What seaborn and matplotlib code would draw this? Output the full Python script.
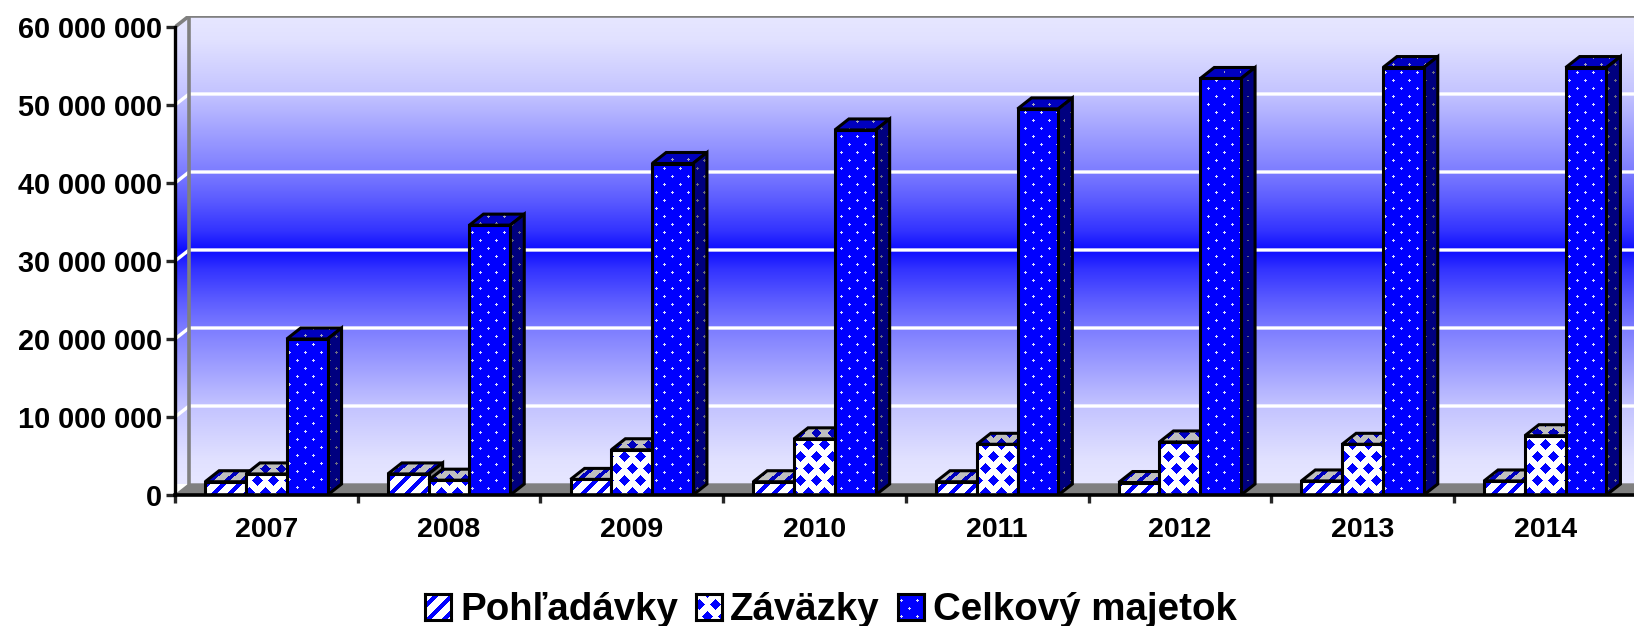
import numpy as np
import pandas as pd
import matplotlib
matplotlib.use("Agg")
import matplotlib.pyplot as plt
from matplotlib.patches import Polygon
import seaborn as sns

# Data
years = ["2007", "2008", "2009", "2010", "2011", "2012", "2013", "2014"]
pohladavky = [1.7e6, 2.7e6, 2.0e6, 1.7e6, 1.7e6, 1.6e6, 1.8e6, 1.8e6]
zavazky = [2.7e6, 1.9e6, 5.8e6, 7.2e6, 6.5e6, 6.8e6, 6.5e6, 7.6e6]
majetok = [20.0e6, 34.6e6, 42.5e6, 46.8e6, 49.5e6, 53.4e6, 54.8e6, 54.8e6]
series = ["Pohľadávky", "Záväzky", "Celkový majetok"]
y_ticks = [0, 10e6, 20e6, 30e6, 40e6, 50e6, 60e6]
y_labels = ["0", "10 000 000", "20 000 000", "30 000 000", "40 000 000", "50 000 000", "60 000 000"]

W, H = 1634, 626
LEFT, BOTTOM, TOP = 175, 495, 16
CAT_W = 182.7
PX_PER_UNIT = 78 / 10e6
DEPTH_X, DEPTH_Y = 14, 11

sns.set_theme(style="white")
plt.rcParams["font.family"] = ["Liberation Sans", "DejaVu Sans"]
plt.rcParams["font.weight"] = "bold"

df = pd.DataFrame({
    "rok": years * 3,
    "hodnota": pohladavky + zavazky + majetok,
    "seria": np.repeat(series, len(years)),
})

fig = plt.figure(figsize=(W / 100, H / 100), dpi=100, facecolor="white")
ax = fig.add_axes([LEFT / W, (H - BOTTOM) / H, (W - LEFT) / W, (BOTTOM - TOP) / H])
sns.barplot(df, x="rok", y="hodnota", hue="seria", width=0.67, gap=0, legend=False,
            palette=["white", "white", "blue"], ax=ax)
bars = list(ax.patches)

xlim = (-0.5, -0.5 + (W - LEFT) / CAT_W)
ylim = (0, (BOTTOM - TOP) / PX_PER_UNIT)
dx = DEPTH_X / CAT_W
dy = DEPTH_Y / PX_PER_UNIT


def texture(kind, x0, y0, w, h, shade=1.0):
    # RGB pattern for a pixel box, anchored to figure pixels
    xx, yy = np.meshgrid(np.arange(int(w)) + int(x0), np.arange(int(h)) + int(y0))
    if kind == 0:
        mask = ((xx + yy) % 16) < 6
        bg, fg = (1, 1, 1), (0, 0, 1)
    elif kind == 1:
        # staggered diamonds, 16 px across and 12 px between rows
        px, py = (xx % 16) - 8, (yy % 24) - 12
        qx, qy = ((xx + 8) % 16) - 8, ((yy + 12) % 24) - 12
        mask = ((np.abs(px) / 6 + np.abs(py) / 5.5) < 1) | ((np.abs(qx) / 6 + np.abs(qy) / 5.5) < 1)
        bg, fg = (1, 1, 1), (0, 0, 1)
    else:
        mask = np.zeros_like(xx, dtype=bool)
        for ox, oy in [(0, 0), (8, 8)]:
            mask |= (((xx + ox) % 16) - 8) ** 2 + (((yy + oy) % 16) - 8) ** 2 <= 1
        bg, fg = (0, 0, 1), (0.85, 0.85, 1)
    img = np.empty(xx.shape + (3,))
    img[~mask] = bg
    img[mask] = fg
    return img * shade


def textured_face(kind, pts, shade, z):
    # pts are in data coordinates, the image covers their bounding box
    pts = np.array(pts)
    x1, x2 = pts[:, 0].min(), pts[:, 0].max()
    y1, y2 = pts[:, 1].min(), pts[:, 1].max()
    px0 = LEFT + (x1 - xlim[0]) * CAT_W
    px1 = LEFT + (x2 - xlim[0]) * CAT_W
    py0 = BOTTOM - y2 * PX_PER_UNIT
    py1 = BOTTOM - y1 * PX_PER_UNIT
    img = texture(kind, px0, py0, max(px1 - px0, 2) + 1, max(py1 - py0, 2) + 1, shade)
    im = ax.imshow(img, extent=(x1, x2, y1, y2), aspect="auto", origin="upper",
                   interpolation="nearest", zorder=z)
    edge = Polygon(pts, closed=True, fill=False, edgecolor="black", linewidth=2.2,
                   joinstyle="miter", zorder=z + 0.1)
    ax.add_patch(edge)
    im.set_clip_path(edge)


# back wall and side wall
levels = [12, 50, 90, 125, 195, 225, 231]
stops = [0, 0.08, 0.21, 0.34, 0.667, 0.9, 1]
ramp = np.interp(np.abs(np.linspace(-1, 1, 469)), stops, levels) / 255
wall = np.stack([ramp, ramp, np.ones_like(ramp)], axis=1)[:, None, :]
wall_im = ax.imshow(wall, extent=(xlim[0], xlim[1], dy, ylim[1]), aspect="auto",
                    origin="upper", zorder=0)
side = Polygon([(xlim[0], 0), (xlim[0] + dx, dy), (xlim[1], dy), (xlim[1], ylim[1]),
                (xlim[0] + dx, ylim[1]), (xlim[0], ylim[1] - dy)],
               closed=True, fill=False, edgecolor="none")
ax.add_patch(side)
wall_im.set_clip_path(side)

# floor
ax.fill([xlim[0], xlim[0] + dx, xlim[1], xlim[1]], [0, dy, dy, 0], color="#808080", zorder=1)

# gridlines on the walls
for v in y_ticks[1:-1]:
    ax.plot([xlim[0], xlim[0] + dx, xlim[1]], [v, v + dy, v + dy], color="white", lw=2.4, zorder=1.5)
ax.plot([xlim[0], xlim[0] + dx, xlim[1]], [ylim[1] - dy, ylim[1], ylim[1]], color="#808080", lw=2.6, zorder=1.6)
ax.plot([xlim[0] + dx, xlim[0] + dx], [dy, ylim[1]], color="#808080", lw=2.6, zorder=1.6)

# bars as boxes, left to right so front faces hide the sides behind them
n = len(years)
order = sorted(range(len(bars)), key=lambda i: bars[i].get_x())
z = 2
for i in order:
    bar = bars[i]
    kind = i // n
    x, w, h = bar.get_x(), bar.get_width(), bar.get_height()
    bar.set_visible(False)
    textured_face(kind, [(x, h), (x + dx, h + dy), (x + w + dx, h + dy), (x + w, h)], 0.75, z)
    textured_face(kind, [(x + w, 0), (x + w + dx, dy), (x + w + dx, h + dy), (x + w, h)], 0.5, z + 0.2)
    textured_face(kind, [(x, 0), (x + w, 0), (x + w, h), (x, h)], 1.0, z + 0.4)
    z += 1

for s in ["top", "right"]:
    ax.spines[s].set_visible(False)
ax.spines["left"].set_bounds(0, 60e6)
ax.spines["left"].set_linewidth(2.4)
ax.spines["left"].set_color("black")
ax.spines["left"].set_zorder(200)
ax.spines["bottom"].set_linewidth(2.6)
ax.spines["bottom"].set_color("black")
ax.spines["bottom"].set_zorder(200)

ax.set_xlabel("")
ax.set_ylabel("")
ax.set_yticks(y_ticks, y_labels, fontsize=20.8, fontweight="bold", color="black")
ax.set_xticks(range(n), years, fontsize=20.5, fontweight="bold", color="black")
ax.set_xticks(np.arange(n) - 0.5, minor=True)
ax.tick_params(axis="y", length=6.5, width=2.4, pad=3, left=True)
ax.tick_params(axis="x", which="major", length=0, pad=15.5)
ax.tick_params(axis="x", which="minor", length=5.5, width=2.4, bottom=True)

# limits last, the tick calls above can widen them
ax.set_xlim(*xlim)
ax.set_ylim(*ylim)

# legend drawn by hand, the pattern swatches are not available as legend handles
swatch_x = [425, 696, 898]
text_x = [460, 730, 933]
for kind, (sx, tx, name) in enumerate(zip(swatch_x, text_x, series)):
    sw = fig.add_axes([sx / W, (H - 620) / H, 26 / W, 26 / H])
    sw.imshow(texture(kind, 5, 2, 26, 26), aspect="auto", interpolation="nearest")
    sw.set_xticks([])
    sw.set_yticks([])
    for sp in sw.spines.values():
        sp.set_visible(True)
        sp.set_linewidth(2.2)
        sp.set_color("black")
    fig.text(tx / W, (H - 620) / H, name, fontsize=27.7, fontweight="bold", color="black",
             ha="left", va="baseline")

fig.savefig("out.png", dpi=100)
